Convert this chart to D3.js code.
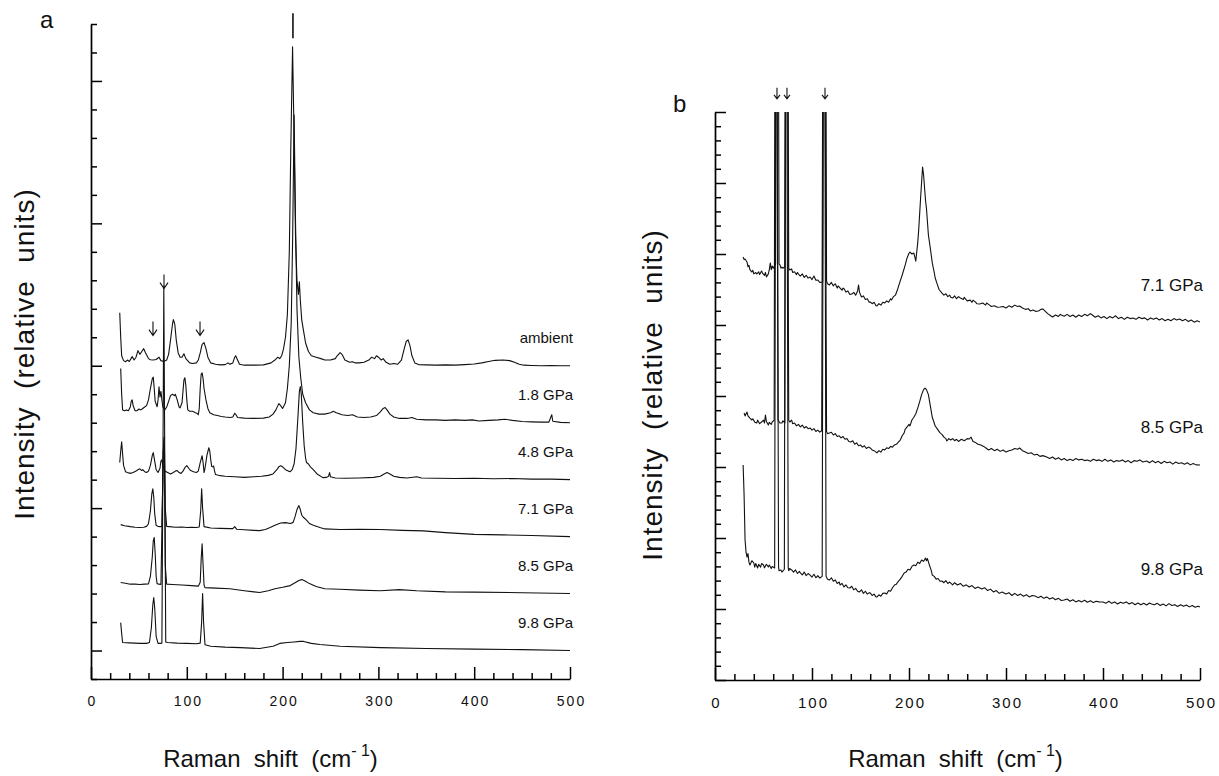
<!DOCTYPE html>
<html>
<head>
<meta charset="utf-8">
<script src="https://cdn.jsdelivr.net/npm/d3@7"></script>
<style>
  body { margin: 0; background: #fff; }
  text { font-family: "Liberation Sans", Arial, sans-serif; fill: #111; }
</style>
</head>
<body>
<svg width="1219" height="776"></svg>
<script>
// ---- data (Raman shift in cm-1, intensity above each trace's offset, in tick units) ----
const shiftTicks = d3.range(0, 501, 20);

// panel a
const labelsA = ['ambient', '1.8 GPa', '4.8 GPa', '7.1 GPa', '8.5 GPa', '9.8 GPa'];
const offsetsA = [11, 9, 7, 5, 3, 1];

const ambientA = [[30,1.86],[31,1.0],[32,0.35],[34,0.18],[36,0.14],[38,0.2],[40,0.15],[43,0.32],[45,0.2],[47,0.3],[49,0.53],[51,0.4],[53,0.5],[55,0.6],[57,0.45],[60,0.25],[62,0.21],[65,0.2],[68,0.22],[71,0.3],[73,0.18],[76,0.15],[79,0.2],[81,0.4],[83,0.9],[85,1.45],[86,1.62],[87.5,1.45],[89,0.9],[91,0.45],[93,0.3],[95,0.3],[97,0.42],[99,0.25],[103,0.1],[106,0.08],[110,0.1],[112,0.2],[114,0.45],[116,0.75],[118,0.81],[120,0.6],[122,0.3],[125,0.1],[130,0.05],[135,0.03],[140,0.04],[143,0.1],[145,0.05],[148,0.1],[150,0.3],[151,0.35],[153,0.2],[155,0.05],[160,0.02],[170,0.02],[180,0.03],[188,0.1],[192,0.2],[195,0.3],[197,0.25],[199,0.35],[201,0.6],[203,1.0],[205,1.8],[207,4.0],[208.5,7.5],[210.4,11.2],[212,8.0],[213.5,4.5],[215,3.0],[216.5,2.5],[217.5,2.95],[218.5,2.3],[220,1.6],[222,1.2],[224,0.8],[227,0.5],[230,0.35],[235,0.3],[240,0.25],[244,0.2],[250,0.2],[255,0.25],[257,0.35],[260,0.46],[262,0.4],[265,0.2],[270,0.12],[273,0.14],[276,0.1],[280,0.1],[285,0.12],[290,0.2],[293,0.3],[296,0.25],[298,0.35],[300,0.3],[303,0.2],[305,0.25],[308,0.12],[312,0.05],[316,0.08],[320,0.05],[324,0.2],[327,0.6],[329,0.85],[331,0.91],[333,0.7],[335,0.35],[338,0.1],[342,0.04],[350,0.03],[360,0.02],[370,0.03],[380,0.02],[390,0.04],[400,0.06],[408,0.1],[415,0.15],[422,0.19],[430,0.2],[437,0.18],[442,0.12],[447,0.05],[452,0.02],[460,0.01],[470,0.0],[480,0.01],[490,0.0],[500,0.0]];

const gpa18A = [[31,1.9],[32,1.0],[33,0.45],[35,0.42],[37,0.45],[39,0.42],[41,0.55],[42,0.75],[43,0.8],[44,0.6],[46,0.42],[48,0.42],[50,0.48],[52,0.45],[54,0.5],[56,0.55],[58,0.6],[60,0.8],[62,1.2],[64,1.55],[65,1.6],[66,1.2],[67,0.75],[69,0.56],[70,0.8],[71,1.26],[72,0.9],[73,1.1],[74,0.8],[75,0.55],[77,0.45],[79,0.55],[81,0.75],[83,0.95],[85,1.0],[87,0.95],[88,1.0],[90,0.8],[92,0.55],[93,0.52],[95,0.7],[96,1.1],[97,1.5],[98,1.58],[99,1.3],[100,0.8],[101,0.45],[103,0.4],[106,0.4],[109,0.35],[111,0.32],[112,0.28],[113,0.5],[114,1.2],[115,1.7],[116,1.75],[117,1.55],[118,1.2],[120,0.8],[122,0.5],[124,0.35],[128,0.28],[132,0.25],[136,0.22],[140,0.2],[145,0.18],[148,0.2],[150,0.33],[151,0.3],[153,0.18],[160,0.16],[170,0.15],[180,0.16],[186,0.2],[190,0.3],[193,0.45],[196,0.67],[198,0.6],[200,0.5],[203,0.7],[205,1.2],[207,2.0],[209,3.5],[210.5,6.5],[212,10.8],[213.5,7.0],[215,4.0],[217,2.3],[219,1.55],[221,1.0],[224,0.7],[228,0.45],[232,0.35],[238,0.3],[244,0.3],[250,0.35],[253,0.4],[256,0.35],[262,0.28],[268,0.25],[273,0.28],[278,0.2],[285,0.18],[292,0.2],[298,0.25],[302,0.38],[305,0.5],[307,0.53],[309,0.45],[312,0.3],[316,0.2],[322,0.15],[330,0.15],[335,0.18],[340,0.12],[350,0.1],[360,0.1],[370,0.08],[380,0.1],[390,0.08],[398,0.1],[405,0.06],[415,0.08],[425,0.1],[432,0.12],[440,0.08],[450,0.04],[460,0.03],[470,0.02],[478,0.02],[480,0.2],[481,0.28],[482,0.05],[490,0.01],[500,0.0]];

const gpa48A = [[30,0.6],[31,1.0],[32,1.33],[33,0.9],[34,0.5],[36,0.28],[38,0.25],[41,0.22],[44,0.25],[47,0.3],[49,0.35],[51,0.38],[53,0.32],[54,0.35],[56,0.28],[58,0.25],[60,0.3],[62,0.5],[64,0.85],[65,0.95],[66,0.75],[68,0.35],[70,0.25],[72,0.4],[73,0.65],[74,0.7],[75,0.5],[77,0.3],[80,0.25],[83,0.2],[86,0.25],[88,0.3],[90,0.32],[92,0.25],[94,0.22],[96,0.3],[98,0.42],[100,0.49],[102,0.4],[104,0.32],[107,0.28],[110,0.25],[112,0.3],[114,0.6],[116,0.84],[117,0.6],[118,0.25],[119,0.4],[121,0.85],[123,1.12],[124,1.0],[125,0.7],[126,0.46],[127,0.45],[128,0.48],[129,0.3],[130,0.18],[135,0.14],[140,0.12],[150,0.1],[160,0.08],[170,0.1],[178,0.12],[185,0.15],[190,0.2],[194,0.35],[196,0.45],[198,0.49],[200,0.45],[203,0.35],[206,0.3],[208,0.28],[210,0.35],[212,0.55],[214,1.1],[216,2.2],[217.5,3.1],[218.5,3.27],[219.5,3.0],[221,2.0],[222.5,1.2],[224,0.75],[225,0.6],[227,0.55],[229,0.45],[232,0.35],[236,0.2],[242,0.07],[246,0.08],[248,0.12],[249,0.25],[250,0.1],[255,0.06],[265,0.05],[280,0.06],[295,0.08],[302,0.12],[306,0.2],[309,0.25],[312,0.2],[316,0.12],[322,0.08],[330,0.06],[340,0.1],[345,0.06],[360,0.05],[380,0.04],[400,0.05],[420,0.03],[440,0.04],[460,0.02],[480,0.02],[500,0.0]];

const gpa71A = [[31,0.42],[35,0.38],[41,0.35],[46,0.33],[51,0.32],[55,0.33],[58,0.36],[60,0.45],[62,0.9],[63.5,1.5],[64.5,1.68],[65.5,1.4],[66.5,0.8],[68,0.39],[70,0.36],[72,0.35],[74,0.36],[75.5,3.0],[76.5,3.5],[77.5,1.0],[79,0.36],[82,0.35],[88,0.33],[95,0.34],[100,0.32],[105,0.33],[110,0.32],[113,0.34],[114.5,0.9],[115.5,1.68],[116.5,1.0],[118,0.35],[125,0.3],[135,0.29],[145,0.28],[148,0.28],[150,0.35],[152,0.26],[160,0.24],[170,0.22],[176,0.21],[182,0.25],[187,0.32],[192,0.4],[198,0.48],[203,0.49],[208,0.46],[211,0.5],[213,0.7],[215,0.95],[217,1.09],[218.5,0.95],[220,0.75],[222,0.67],[225,0.58],[228,0.46],[232,0.4],[239,0.32],[244,0.27],[260,0.25],[280,0.26],[302,0.25],[325,0.22],[347,0.2],[370,0.14],[400,0.08],[430,0.06],[460,0.04],[500,0.0]];

const gpa85A = [[31,0.39],[36,0.36],[41,0.33],[46,0.33],[51,0.32],[56,0.33],[60,0.34],[62,0.6],[64,1.3],[65,1.85],[66,1.97],[67,1.4],[68,0.6],[69,0.35],[71,0.33],[73,0.32],[75.5,5.0],[76.5,5.5],[77.5,1.0],[79,0.33],[85,0.32],[95,0.3],[105,0.28],[112,0.26],[114,0.4],[115,1.2],[116,1.75],[117,1.0],[118,0.3],[119,0.21],[130,0.19],[145,0.17],[160,0.1],[170,0.06],[176,0.04],[185,0.1],[192,0.17],[200,0.22],[208,0.28],[213,0.38],[217,0.46],[220,0.49],[223,0.45],[228,0.35],[235,0.25],[244,0.17],[260,0.15],[280,0.12],[302,0.1],[322,0.14],[340,0.1],[370,0.06],[400,0.05],[450,0.03],[500,0.0]];

const gpa98A = [[31,0.98],[32,0.6],[33,0.28],[40,0.27],[51,0.25],[58,0.25],[61,0.28],[63,0.8],[64.5,1.6],[65.5,1.86],[66.5,1.5],[68,0.5],[70,0.25],[72,0.25],[74,0.26],[75.3,8],[76,12.8],[76.8,8],[78,0.3],[80,0.28],[90,0.26],[100,0.25],[110,0.24],[114,0.26],[115.5,1.0],[116.5,2.0],[117.5,1.0],[119,0.2],[125,0.15],[140,0.12],[156,0.1],[176,0.07],[190,0.15],[197,0.25],[205,0.28],[212,0.3],[218,0.32],[222,0.32],[230,0.25],[239,0.21],[260,0.15],[302,0.1],[350,0.07],[400,0.05],[450,0.03],[500,0.0]];

// arrows [shift, top of arrow in axis units]
const arrowsA = [[64.7, 12.55], [76.2, 14.2], [113.8, 12.55]];
// short mark above the 210 cm-1 band [shift, from, to]
const topMarkA = [210.8, 23.38, 22.5];

// panel b
const labelsB = ['7.1 GPa', '8.5 GPa', '9.8 GPa'];
const offsetsB = [25, 15, 5];

const gpa71B = [[29,4.79],[30,4.6],[31,4.65],[33,4.44],[34,4.1],[35,4.2],[36,3.9],[38,3.73],[39,3.85],[40,3.6],[42,3.7],[43,3.59],[45,3.75],[46,3.55],[48,3.8],[49,3.66],[51,3.5],[52,3.7],[53,3.38],[55,3.6],[56,3.9],[57,4.37],[58,3.9],[59,4.15],[60,4.0],[62.5,4.3],[63.5,40],[64.8,40],[66,4.3],[67,4.23],[68,4.0],[69,4.08],[70,4.0],[72,4.1],[73.2,40],[74.5,40],[76,4.0],[77,3.87],[79,3.95],[80,3.7],[82,3.75],[84,3.55],[85,3.7],[87,3.5],[88,3.45],[90,3.6],[92,3.35],[94,3.5],[96,3.3],[98,3.38],[100,3.2],[102,3.45],[104,3.15],[106,3.17],[108,3.0],[111,3.03],[112.2,40],[113.6,40],[115,3.1],[116,2.9],[118,2.82],[120,3.0],[122,2.75],[123,2.85],[124,2.9],[126,2.6],[127,2.75],[129,2.6],[131,2.45],[132,2.6],[133,2.55],[135,2.32],[137,2.4],[139,2.15],[141,2.18],[143,2.3],[145,2.1],[147,2.4],[148,2.82],[149,2.3],[151,1.97],[153,2.05],[155,1.8],[157,1.85],[159,1.6],[160,1.62],[162,1.5],[164,1.6],[166,1.35],[167,1.34],[169,1.5],[171,1.4],[173,1.6],[175,1.55],[177,1.7],[179,1.6],[181,1.85],[182,1.76],[184,2.0],[186,2.1],[188,2.46],[190,2.9],[193,3.52],[196,4.2],[198,4.72],[200,5.05],[201,5.14],[203,5.0],[205,5.07],[207,4.5],[209,5.8],[210,6.7],[212,9.0],[214,11.13],[215,10.6],[217,8.8],[218,8.2],[220,6.34],[222,5.4],[224,4.37],[226,3.7],[227,3.31],[229,2.9],[231,2.5],[234,2.25],[236,2.1],[238,2.2],[240,2.0],[242,2.1],[243,1.95],[245,1.9],[247,2.05],[249,1.85],[251,2.0],[253,1.9],[256,1.8],[257,1.95],[258,1.85],[260,1.7],[263,1.75],[265,1.6],[266,1.75],[268,1.65],[270,1.5],[273,1.48],[276,1.55],[279,1.4],[280,1.55],[282,1.45],[285,1.3],[288,1.35],[291,1.25],[294,1.27],[297,1.3],[300,1.2],[303,1.35],[306,1.25],[309,1.4],[312,1.3],[314,1.34],[317,1.2],[320,1.1],[323,1.15],[325,0.99],[328,1.05],[331,0.95],[334,1.0],[336,1.1],[338,1.13],[340,1.0],[343,0.8],[346,0.65],[348,0.56],[351,0.7],[354,0.6],[356,0.75],[357,0.7],[360,0.62],[363,0.75],[366,0.6],[369,0.7],[372,0.55],[375,0.7],[378,0.6],[381,0.75],[384,0.65],[387,0.8],[389,0.7],[392,0.55],[395,0.65],[398,0.5],[401,0.6],[404,0.45],[407,0.6],[410,0.5],[413,0.65],[416,0.45],[419,0.55],[422,0.4],[425,0.55],[428,0.45],[431,0.49],[434,0.4],[437,0.55],[440,0.45],[443,0.5],[446,0.35],[449,0.5],[452,0.4],[455,0.5],[458,0.35],[461,0.45],[464,0.3],[467,0.4],[470,0.3],[473,0.45],[476,0.35],[479,0.42],[482,0.3],[485,0.4],[488,0.25],[491,0.35],[494,0.2],[497,0.3],[500,0.21]];

const gpa85B = [[30,3.8],[31,3.6],[33,3.87],[34,3.6],[36,3.45],[38,3.31],[39,3.4],[41,3.15],[43,3.1],[44,3.3],[46,3.05],[48,3.17],[50,3.3],[51,3.1],[52,3.66],[53,3.2],[55,2.96],[56,3.15],[58,3.0],[59,3.17],[61,3.3],[62,40],[63.4,40],[65,3.3],[67,3.1],[69,3.1],[70,3.25],[72,3.1],[73,40],[74.3,40],[76,3.3],[77,3.17],[79,3.3],[80,3.05],[82,3.1],[84,2.9],[86,3.0],[88,2.82],[90,2.95],[92,2.75],[94,2.85],[96,2.7],[98,2.75],[100,2.6],[102,2.7],[104,2.5],[106,2.6],[108,2.46],[110,2.55],[111.5,40],[112.9,40],[115,2.5],[116,2.35],[118,2.39],[120,2.45],[122,2.25],[124,2.35],[126,2.15],[128,2.2],[130,2.05],[132,2.15],[134,1.95],[136,2.0],[138,1.8],[140,1.76],[142,1.85],[144,1.6],[146,1.7],[148,1.5],[150,1.55],[152,1.4],[154,1.5],[156,1.3],[158,1.4],[160,1.34],[162,1.2],[164,1.15],[166,1.05],[167,0.99],[169,1.15],[171,1.05],[173,1.25],[175,1.2],[177,1.35],[179,1.3],[181,1.45],[183,1.4],[185,1.55],[187,1.6],[189,1.75],[191,1.9],[193,2.2],[195,2.4],[196,2.65],[198,2.82],[200,3.0],[201,2.9],[203,3.31],[205,3.5],[207,3.75],[209,4.15],[211,4.6],[213,5.1],[215,5.45],[216.5,5.56],[218,5.45],[220,5.1],[222,4.3],[224,3.5],[226,3.1],[227,2.89],[229,2.7],[230,2.6],[232,2.4],[234,2.3],[236,2.1],[238,2.0],[239,1.83],[241,2.0],[243,1.9],[245,2.0],[247,1.85],[249,1.95],[251,1.8],[254,1.95],[257,1.85],[260,2.0],[262,1.97],[264,2.1],[266,1.8],[268,1.75],[271,1.6],[274,1.55],[277,1.45],[280,1.3],[282,1.2],[285,1.3],[288,1.15],[291,1.25],[294,1.1],[297,1.2],[300,1.05],[303,1.15],[306,1.2],[309,1.3],[312,1.25],[314,1.34],[317,1.15],[320,1.05],[323,0.95],[326,1.0],[329,0.85],[332,0.9],[335,0.75],[338,0.8],[342,0.7],[345,0.6],[348,0.7],[351,0.55],[354,0.65],[357,0.5],[360,0.6],[363,0.45],[366,0.55],[369,0.45],[372,0.6],[375,0.5],[378,0.55],[381,0.45],[384,0.49],[387,0.4],[390,0.55],[393,0.45],[396,0.5],[399,0.4],[402,0.55],[405,0.4],[408,0.5],[411,0.35],[414,0.45],[417,0.4],[420,0.5],[423,0.35],[426,0.45],[429,0.3],[432,0.45],[435,0.4],[438,0.5],[441,0.35],[445,0.42],[448,0.3],[451,0.45],[454,0.3],[457,0.4],[460,0.25],[463,0.4],[466,0.3],[469,0.35],[472,0.2],[475,0.35],[478,0.25],[481,0.3],[484,0.2],[487,0.3],[490,0.15],[493,0.25],[496,0.15],[500,0.14]];

const gpa98B = [[29,10.14],[30,8.0],[31,4.86],[32,4.0],[33,3.66],[34,3.9],[35,3.3],[36,3.1],[38,3.4],[40,3.24],[41,2.95],[42,3.2],[44,2.89],[45,3.15],[47,2.95],[48,3.2],[50,3.1],[51,2.9],[53,3.15],[55,2.96],[56,3.1],[58,2.85],[59,3.0],[61.5,2.89],[62.6,40],[64,40],[65.5,3.0],[66,2.7],[68,2.75],[69,2.6],[71.5,2.8],[72.6,40],[74,40],[75.5,2.9],[76,2.7],[77,2.85],[79,2.75],[81,2.6],[83,2.75],[85,2.5],[87,2.65],[88,2.54],[90,2.4],[92,2.6],[94,2.35],[96,2.5],[98,2.39],[100,2.25],[102,2.45],[104,2.2],[106,2.35],[108,2.18],[110.5,2.3],[111.7,40],[113.2,40],[114.5,2.3],[116,2.1],[118,2.04],[120,2.2],[122,1.95],[124,2.05],[126,1.8],[128,1.9],[129,1.69],[131,1.8],[133,1.55],[135,1.7],[137,1.5],[139,1.48],[141,1.6],[143,1.35],[145,1.45],[147,1.25],[149,1.2],[151,1.35],[153,1.1],[155,1.25],[157,1.05],[159,1.15],[160,1.13],[162,0.95],[164,1.05],[166,0.85],[167,0.85],[169,1.0],[171,0.9],[173,1.1],[175,1.13],[177,1.05],[179,1.3],[181,1.25],[183,1.5],[185,1.69],[187,1.75],[189,1.95],[191,2.1],[193,2.3],[195,2.54],[197,2.6],[199,2.8],[201,2.75],[203,3.0],[205,3.1],[207,3.05],[209,3.3],[211,3.2],[213,3.45],[215,3.35],[217,3.59],[218,3.4],[219,3.55],[221,3.1],[223,2.7],[224,2.39],[226,2.3],[228,2.1],[230,2.15],[232,1.95],[234,1.97],[236,1.85],[238,2.0],[240,1.8],[242,1.9],[245,1.7],[247,1.85],[250,1.69],[253,1.8],[256,1.6],[259,1.7],[262,1.55],[265,1.65],[268,1.45],[271,1.55],[275,1.41],[278,1.5],[281,1.3],[284,1.4],[287,1.2],[290,1.3],[293,1.1],[296,1.2],[300,1.06],[303,1.15],[306,0.95],[309,1.1],[312,0.95],[315,1.05],[318,0.9],[321,1.0],[324,0.85],[327,0.95],[330,0.92],[333,0.8],[336,0.9],[339,0.75],[342,0.85],[345,0.7],[348,0.8],[351,0.65],[354,0.75],[357,0.6],[360,0.63],[363,0.7],[366,0.55],[369,0.65],[372,0.5],[375,0.6],[378,0.5],[381,0.62],[384,0.48],[387,0.58],[390,0.45],[393,0.55],[396,0.5],[400,0.49],[403,0.4],[406,0.55],[409,0.4],[412,0.5],[415,0.35],[418,0.48],[421,0.4],[424,0.5],[427,0.35],[430,0.45],[433,0.3],[436,0.42],[439,0.3],[442,0.4],[445,0.28],[448,0.42],[450,0.35],[453,0.3],[456,0.4],[459,0.25],[462,0.35],[465,0.22],[468,0.38],[471,0.25],[474,0.3],[477,0.18],[480,0.3],[483,0.2],[486,0.28],[489,0.15],[492,0.25],[495,0.12],[498,0.2],[500,0.14]];

const arrowsB = [[63.9, 41.7], [74.2, 41.7], [113.4, 41.7]];

// ---- drawing ----
const svg = d3.select('svg');
svg.append('rect').attr('width', 1219).attr('height', 776).attr('fill', '#fff');

function drawPanel(p) {
  const x = d3.scaleLinear().domain([0, 500]).range([p.left, p.right]);
  const y = d3.scaleLinear().domain([0, p.yMax]).range([p.bottom, p.top]);
  const g = svg.append('g');

  // x axis, ticks pointing inwards
  const xAxis = g.append('g')
    .attr('transform', `translate(0,${p.bottom})`)
    .call(d3.axisBottom(x).tickValues(shiftTicks).tickSize(-6).tickSizeOuter(0)
      .tickPadding(17).tickFormat((d) => (d % 100 === 0 ? d : '')));
  xAxis.selectAll('.tick line')
    .attr('y2', (d) => (d % 100 === 0 ? -12 : -6));
  xAxis.selectAll('.tick text')
    .style('font-size', p.tickFont + 'px')
    .style('letter-spacing', '2px')
    .attr('dx', '1px');

  // y axis, no labels
  const yAxis = g.append('g')
    .attr('transform', `translate(${p.left},0)`)
    .call(d3.axisLeft(y).tickValues(d3.range(0, p.yMax + 1)).tickSize(-6)
      .tickSizeOuter(0).tickFormat(''));
  yAxis.selectAll('.tick line')
    .attr('x2', (d) => (p.yMajor(d) ? 11 : 6));

  g.selectAll('.domain').attr('stroke-width', 1.7).attr('stroke', '#000');
  g.selectAll('.tick line').attr('stroke-width', 1.5).attr('stroke', '#000');

  // spectra
  const clipId = 'clip' + p.name;
  svg.append('clipPath').attr('id', clipId)
    .append('rect').attr('x', p.left).attr('y', p.top)
    .attr('width', p.right - p.left).attr('height', p.bottom - p.top);

  p.spectra.forEach((s, i) => {
    const line = d3.line()
      .x((d) => x(d[0]))
      .y((d) => y(p.offsets[i] + d[1]));
    g.append('path')
      .datum(s)
      .attr('clip-path', `url(#${clipId})`)
      .attr('fill', 'none')
      .attr('stroke', '#111')
      .attr('stroke-width', 1.1)
      .attr('stroke-linejoin', 'round')
      .attr('d', line);

    g.append('text')
      .attr('x', p.right + 3)
      .attr('y', y(p.offsets[i]) - p.labelDy)
      .attr('text-anchor', 'end')
      .style('font-size', p.labelFont + 'px')
      .text(p.labels[i]);
  });

  // arrows marking the bands
  p.arrows.forEach((a) => {
    const ax = x(a[0]);
    const ay = y(a[1]);
    const end = ay + p.arrowLen;
    g.append('path')
      .attr('d', `M${ax},${ay}V${end}M${ax - p.headW},${end - p.headH}L${ax},${end}L${ax + p.headW},${end - p.headH}`)
      .attr('fill', 'none')
      .attr('stroke', '#111')
      .attr('stroke-width', 1.1);
  });

  // axis titles
  g.append('text')
    .attr('transform', `translate(${p.titleX},${p.titleY}) rotate(-90)`)
    .attr('text-anchor', 'middle')
    .style('font-size', '28px')
    .style('letter-spacing', '1px')
    .style('white-space', 'pre')
    .text('Intensity  (relative  units)');

  const xt = g.append('text')
    .attr('x', (p.left + p.right) / 2 + p.xTitleShift)
    .attr('y', 767)
    .attr('text-anchor', 'middle')
    .style('font-size', '24px')
    .style('white-space', 'pre');
  xt.append('tspan').text('Raman  shift  (cm');
  xt.append('tspan').attr('dy', -11).style('font-size', '16px').text('- 1');
  xt.append('tspan').attr('dy', 11).text(')');

  g.append('text')
    .attr('x', p.letterX)
    .attr('y', p.letterY)
    .style('font-size', '24px')
    .text(p.name);

  return { x, y, g };
}

const a = drawPanel({
  name: 'a', left: 91, right: 570, top: 24, bottom: 679, yMax: 23,
  yMajor: (d) => d % 5 === 1,
  spectra: [ambientA, gpa18A, gpa48A, gpa71A, gpa85A, gpa98A],
  offsets: offsetsA, labels: labelsA, labelDy: 23, labelFont: 15, tickFont: 14,
  arrows: arrowsA, arrowLen: 14, headW: 4, headH: 6,
  titleX: 34, titleY: 354, xTitleShift: -60, letterX: 40, letterY: 28
});

// short mark above the strongest band of panel a
a.g.append('line')
  .attr('x1', a.x(topMarkA[0])).attr('x2', a.x(topMarkA[0]))
  .attr('y1', a.y(topMarkA[1])).attr('y2', a.y(topMarkA[2]))
  .attr('stroke', '#111').attr('stroke-width', 1.6);

drawPanel({
  name: 'b', left: 715, right: 1200, top: 112, bottom: 680, yMax: 40,
  yMajor: (d) => d % 5 === 0,
  spectra: [gpa71B, gpa85B, gpa98B],
  offsets: offsetsB, labels: labelsB, labelDy: 34, labelFont: 17, tickFont: 15,
  arrows: arrowsB, arrowLen: 11, headW: 3, headH: 4,
  titleX: 662, titleY: 395, xTitleShift: -2, letterX: 673, letterY: 112
});
</script>
</body>
</html>
